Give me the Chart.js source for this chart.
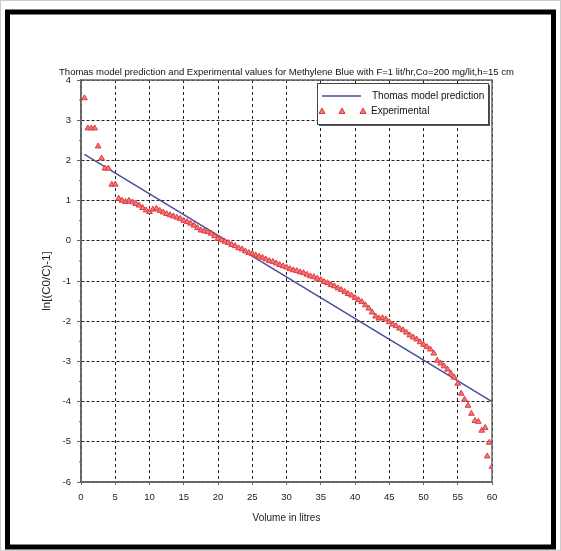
<!DOCTYPE html>
<html>
<head>
<meta charset="utf-8">
<script src="https://cdn.jsdelivr.net/npm/chart.js@4.4.1/dist/chart.umd.min.js"></script>
<style>
  html, body { margin: 0; padding: 0; background: #fff; }
  canvas { display: block; }
</style>
</head>
<body>
<canvas id="graphique" width="561" height="551"></canvas>
<script>
// Volume (litres) des points expérimentaux
const volume = [
  0.5, 1.0, 1.5, 2.0, 2.5, 3.0, 3.5, 4.0, 4.5, 5.0,
  5.5, 6.0, 6.5, 7.0, 7.5, 8.0, 8.5, 9.0, 9.5, 10.0,
  10.5, 11.0, 11.5, 12.0, 12.5, 13.0, 13.5, 14.0, 14.5, 15.0,
  15.5, 16.0, 16.5, 17.0, 17.5, 18.0, 18.5, 19.0, 19.5, 20.0,
  20.5, 21.0, 21.5, 22.0, 22.5, 23.0, 23.5, 24.0, 24.5, 25.0,
  25.5, 26.0, 26.5, 27.0, 27.5, 28.0, 28.5, 29.0, 29.5, 30.0,
  30.5, 31.0, 31.5, 32.0, 32.5, 33.0, 33.5, 34.0, 34.5, 35.0,
  35.5, 36.0, 36.5, 37.0, 37.5, 38.0, 38.5, 39.0, 39.5, 40.0,
  40.5, 41.0, 41.5, 42.0, 42.5, 43.0, 43.5, 44.0, 44.5, 45.0,
  45.5, 46.0, 46.5, 47.0, 47.5, 48.0, 48.5, 49.0, 49.5, 50.0,
  50.5, 51.0, 51.5, 52.0, 52.5, 53.0, 53.5, 54.0, 54.5, 55.0,
  55.5, 56.0, 56.5, 57.0, 57.5, 58.0, 58.5, 59.0, 59.3, 59.6, 60.0
];

// ln[(C0/C)-1] mesuré
const experimental = [
  3.55, 2.80, 2.80, 2.80, 2.35, 2.05, 1.80, 1.80, 1.40, 1.40,
  1.05, 1.00, 0.97, 1.00, 0.96, 0.92, 0.88, 0.82, 0.76, 0.72,
  0.78, 0.80, 0.75, 0.71, 0.67, 0.64, 0.61, 0.58, 0.55, 0.50,
  0.47, 0.43, 0.38, 0.32, 0.26, 0.24, 0.22, 0.18, 0.12, 0.05,
  0.02, -0.02, -0.05, -0.10, -0.13, -0.18, -0.21, -0.26, -0.30, -0.32,
  -0.36, -0.39, -0.42, -0.46, -0.50, -0.52, -0.56, -0.60, -0.63, -0.66,
  -0.70, -0.73, -0.75, -0.78, -0.80, -0.84, -0.88, -0.90, -0.94, -0.97,
  -1.02, -1.05, -1.10, -1.13, -1.18, -1.22, -1.27, -1.32, -1.36, -1.42,
  -1.47, -1.52, -1.60, -1.68, -1.78, -1.88, -1.93, -1.92, -1.95, -2.02,
  -2.08, -2.12, -2.18, -2.22, -2.28, -2.35, -2.40, -2.45, -2.52, -2.58,
  -2.64, -2.70, -2.80, -2.98, -3.05, -3.12, -3.20, -3.30, -3.40, -3.55,
  -3.80, -3.95, -4.10, -4.30, -4.48, -4.50, -4.72, -4.65, -5.36, -5.02, -5.62
];

// Droite du modèle de Thomas
const thomasVolume = [0.5, 60];
const thomasPrediction = [2.15, -4.0];

const xMin = 0, xMax = 60, xStep = 5;
const yMin = -6, yMax = 4, yStep = 1;

const police = "'Liberation Sans', Arial, sans-serif";

// cadre noir autour de la figure + bord du graphique
const cadre = {
  id: "cadre",
  beforeDraw(chart) {
    const ctx = chart.ctx;
    ctx.save();
    ctx.fillStyle = "#fff";
    ctx.fillRect(0, 0, chart.width, chart.height);
    ctx.strokeStyle = "#ccc";
    ctx.lineWidth = 1;
    ctx.strokeRect(0.5, 0.5, chart.width - 1, chart.height - 1);
    ctx.strokeStyle = "#000";
    ctx.lineWidth = 5;
    ctx.strokeRect(7.5, 12, 546, 535);
    ctx.restore();
  },
  beforeDatasetsDraw(chart) {
    const { ctx, chartArea: a, scales } = chart;
    ctx.save();
    ctx.strokeStyle = "#666";
    ctx.lineWidth = 1.5;
    ctx.strokeRect(a.left, a.top, a.right - a.left, a.bottom - a.top);
    // petites graduations sur l'axe y
    ctx.lineWidth = 1;
    for (let v = yMin + 0.5; v < yMax; v += yStep) {
      const p = scales.y.getPixelForValue(v);
      ctx.beginPath();
      ctx.moveTo(a.left - 2, p);
      ctx.lineTo(a.left, p);
      ctx.stroke();
    }
    ctx.restore();
  },
};

// légende dans la zone du graphique, en haut à droite
const legende = {
  id: "legende",
  afterDraw(chart) {
    const { ctx, chartArea: a } = chart;
    const ds = chart.data.datasets;
    const w = 171, h = 41;
    const x = a.right - 4 - w, y = a.top + 3;
    ctx.save();
    ctx.fillStyle = "#555";
    ctx.fillRect(x + 2, y + 2, w, h);
    ctx.fillStyle = "#fff";
    ctx.fillRect(x, y, w, h);
    ctx.strokeStyle = "#444";
    ctx.lineWidth = 1;
    ctx.strokeRect(x + 0.5, y + 0.5, w, h);

    // ligne du modèle
    ctx.strokeStyle = ds[0].borderColor;
    ctx.lineWidth = 1.5;
    ctx.beginPath();
    ctx.moveTo(x + 5, y + 13);
    ctx.lineTo(x + 44, y + 13);
    ctx.stroke();

    // triangles expérimentaux
    ctx.fillStyle = ds[1].backgroundColor;
    ctx.strokeStyle = ds[1].borderColor;
    ctx.lineWidth = 1;
    for (const dx of [5, 25, 46]) {
      const cx = x + dx, cy = y + 28;
      ctx.beginPath();
      ctx.moveTo(cx, cy - 3);
      ctx.lineTo(cx + 3, cy + 2.5);
      ctx.lineTo(cx - 3, cy + 2.5);
      ctx.closePath();
      ctx.fill();
      ctx.stroke();
    }

    ctx.fillStyle = "#111";
    ctx.font = "10px " + police;
    ctx.textBaseline = "middle";
    ctx.fillText(ds[0].label, x + 55, y + 13);
    ctx.fillText(ds[1].label, x + 54, y + 28);
    ctx.restore();
  },
};

new Chart(document.querySelector("#graphique").getContext("2d"), {
  type: "scatter",
  data: {
    datasets: [
      {
        label: "Thomas model prediction",
        type: "line",
        data: thomasVolume.map((v, i) => ({ x: v, y: thomasPrediction[i] })),
        borderColor: "#4a4e9c",
        borderWidth: 1.5,
        pointRadius: 0,
        showLine: true,
        fill: false,
        order: 1,
      },
      {
        label: "Experimental",
        data: volume.map((v, i) => ({ x: v, y: experimental[i] })),
        pointStyle: "triangle",
        pointRadius: 3.3,
        backgroundColor: "#f07a7a",
        borderColor: "#e03a3e",
        borderWidth: 1,
        order: 0,
      },
    ],
  },
  options: {
    responsive: false,
    animation: false,
    layout: {
      padding: { left: 36, right: 24, top: 0, bottom: 23 },
    },
    plugins: {
      legend: { display: false },
      tooltip: { enabled: false },
      title: {
        display: true,
        text: "Thomas model prediction and Experimental values for Methylene Blue with F=1 lit/hr,Co=200 mg/lit,h=15 cm",
        color: "#111",
        font: { family: police, size: 9.5, weight: "normal", lineHeight: 1.2 },
        padding: { top: 66.5, bottom: 2.1 },
      },
    },
    scales: {
      x: {
        type: "linear",
        min: xMin,
        max: xMax,
        afterFit: (s) => { s.height = 46; },
        title: {
          display: true,
          text: "Volume in litres",
          color: "#222",
          font: { family: police, size: 10, lineHeight: 1.2 },
          padding: { top: 4, bottom: 4 },
        },
        ticks: {
          stepSize: xStep,
          color: "#222",
          font: { family: police, size: 9.5 },
          padding: 7,
          maxRotation: 0,
        },
        grid: {
          color: "#222",
          lineWidth: 1,
          tickLength: 3,
          tickColor: "#666",
          tickBorderDash: [],
        },
        border: { color: "#666", width: 1.5, dash: [3, 3] },
      },
      y: {
        type: "linear",
        min: yMin,
        max: yMax,
        afterFit: (s) => { s.width = 45; },
        title: {
          display: true,
          text: "ln[(C0/C)-1]",
          color: "#222",
          font: { family: police, size: 11.5, lineHeight: 1.2 },
          padding: { top: 4, bottom: 4 },
        },
        ticks: {
          stepSize: yStep,
          color: "#222",
          font: { family: police, size: 9.5 },
          padding: 6,
        },
        grid: {
          color: "#222",
          lineWidth: 1,
          tickLength: 4,
          tickColor: "#666",
          tickBorderDash: [],
        },
        border: { color: "#666", width: 1.5, dash: [3, 2] },
      },
      // axe vide à droite : réserve la marge pour centrer le titre
      y2: {
        type: "linear",
        position: "right",
        afterFit: (s) => { s.width = 45; },
        ticks: { display: false },
        grid: { display: false },
        border: { display: false },
      },
    },
  },
  plugins: [cadre, legende],
});
</script>
</body>
</html>
